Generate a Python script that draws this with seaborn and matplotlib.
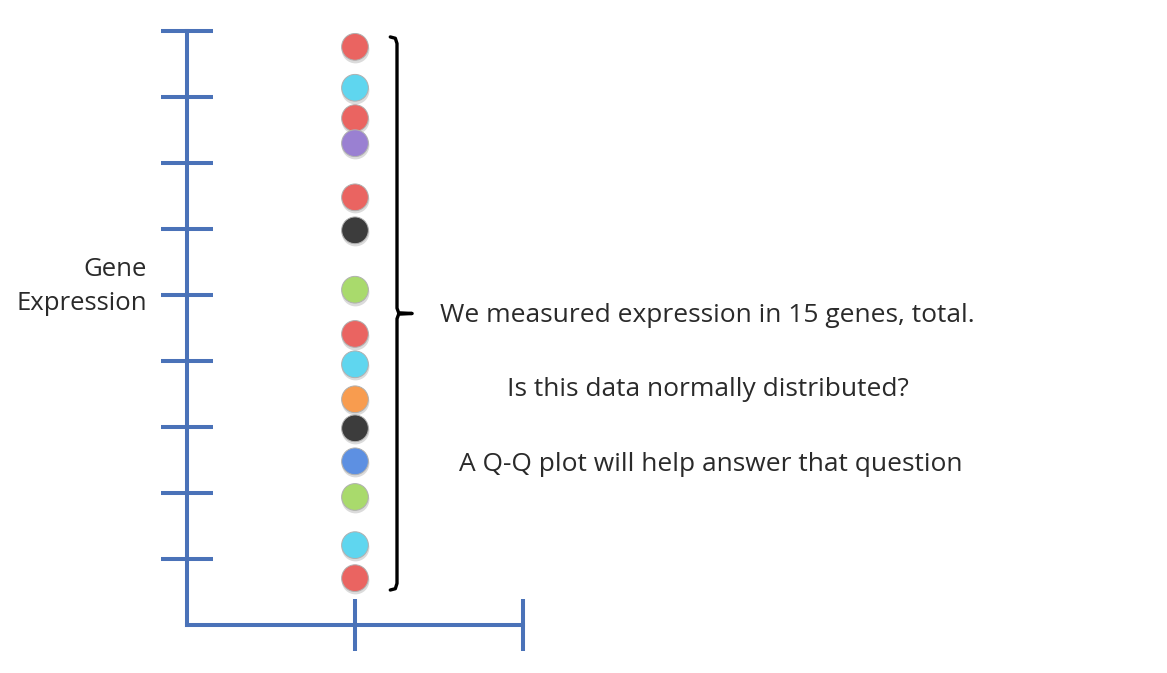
import numpy as np
import pandas as pd
import matplotlib.pyplot as plt
import seaborn as sns

sns.set_theme(style="white")
plt.rcParams['font.family'] = ['Open Sans', 'DejaVu Sans']

# gene expression values (one per gene), all sitting at x = 1
expression = [8.76, 8.14, 7.68, 7.30, 6.48, 5.98, 5.08, 4.41, 3.95, 3.42, 2.98, 2.48, 1.94, 1.21, 0.71]
gene_color = ['red', 'cyan', 'red', 'purple', 'red', 'black', 'green', 'red',
              'cyan', 'orange', 'black', 'blue', 'green', 'cyan', 'red']
palette = {'red': '#ea6461', 'cyan': '#5fd6ef', 'purple': '#9a80d2', 'black': '#3c3c3c',
           'green': '#a9da6c', 'orange': '#f89c4f', 'blue': '#5d90e2'}
y_ticks = [1, 2, 3, 4, 5, 6, 7, 8, 9]
x_ticks = [1, 2]

df = pd.DataFrame({'x': 1, 'expr': expression, 'color': gene_color})

fig = plt.figure(figsize=(11.67, 6.73), dpi=100)
ax = fig.add_axes([0, 0, 1, 1])
ax.set_xlim(-187 / 168, 980 / 168)
ax.set_ylim(-48 / 66, 625 / 66)

# soft shadow under each ball
ax.scatter(df['x'], df['expr'] - 0.03, s=400, color='#999999', alpha=0.35, linewidth=0, zorder=2)
sns.scatterplot(data=df, x='x', y='expr', hue='color', palette=palette, s=370,
                edgecolor='#b0b0b0', linewidth=0.7, legend=False, ax=ax, zorder=3)

axis_blue = '#4a72b8'
for side in ['top', 'right']:
    ax.spines[side].set_visible(False)
ax.spines['left'].set_position(('data', 0))
ax.spines['bottom'].set_position(('data', 0))
ax.spines['left'].set_bounds(0, max(y_ticks))
ax.spines['bottom'].set_bounds(0, max(x_ticks))
for side in ['left', 'bottom']:
    ax.spines[side].set_color(axis_blue)
    ax.spines[side].set_linewidth(2.9)
ax.set_yticks(y_ticks)
ax.set_xticks(x_ticks)
ax.tick_params(axis='both', direction='inout', length=38, width=2.9, color=axis_blue,
               labelleft=False, labelbottom=False, left=True, bottom=True)
ax.set_xlabel('')
ax.set_ylabel('')

ax.text(-0.24, 5.13, 'Gene\nExpression', ha='right', va='center', fontsize=18.5,
        color='#2a2a2a', linespacing=1.5, multialignment='right')

# curly bracket around the points
top = max(expression) + 0.15
bot = min(expression) - 0.18
mid = (top + bot) / 2
xb, xc, xt = 1.25, 1.21, 1.34
bx = [xc, xb - 0.01, xb, xb, xb + 0.01, xt, xb + 0.01, xb, xb, xb - 0.01, xc]
by = [top, top - 0.02, top - 0.1, mid + 0.08, mid + 0.01, mid, mid - 0.01, mid - 0.08,
      bot + 0.1, bot + 0.02, bot]
ax.plot(bx, by, color='black', linewidth=2.4, solid_capstyle='round', solid_joinstyle='round')

ax.text(3.1, 4.69, 'We measured expression in 15 genes, total.', ha='center', va='center',
        fontsize=19, color='#2a2a2a')
ax.text(3.1, 3.57, 'Is this data normally distributed?', ha='center', va='center',
        fontsize=19, color='#2a2a2a')
ax.text(3.12, 2.43, 'A Q-Q plot will help answer that question', ha='center', va='center',
        fontsize=19, color='#2a2a2a')

fig.savefig('out.png', dpi=100)
